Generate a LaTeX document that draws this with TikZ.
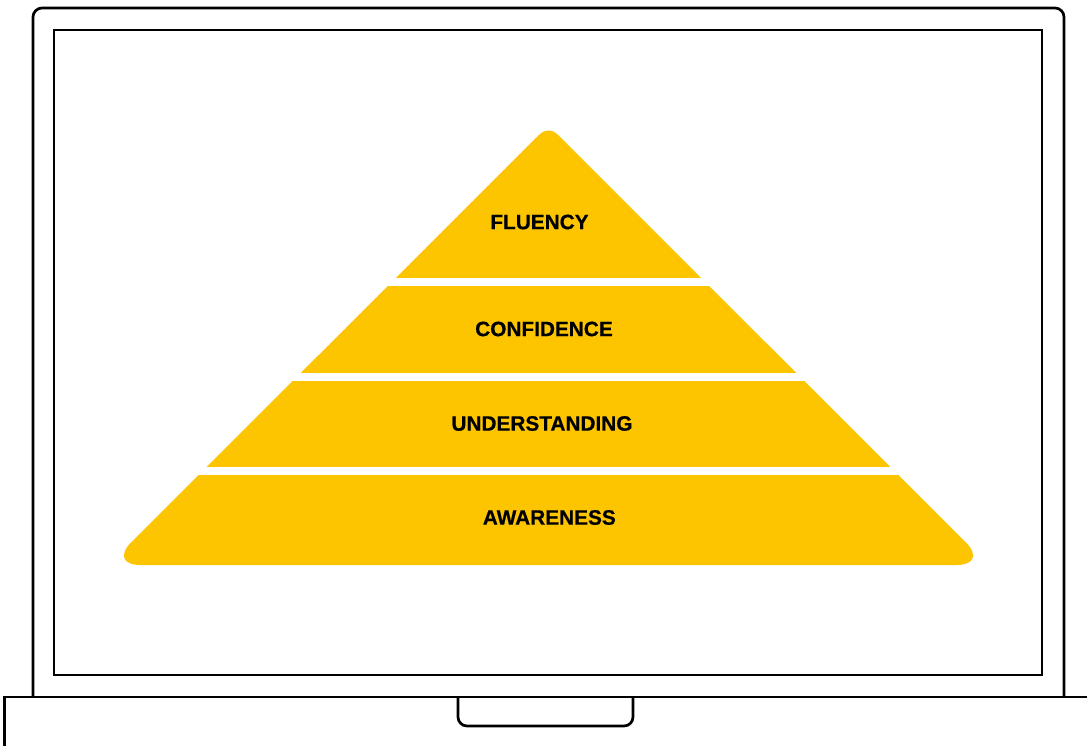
\documentclass[tikz,border=0pt]{standalone}
\usepackage{fontspec}
\setmainfont{Liberation Sans}[BoldFeatures={FakeBold=0.6}]
\definecolor{pyr}{RGB}{252,197,0}
\begin{document}
\begin{tikzpicture}[x=1pt,y=-1pt,
  outline/.style={draw=black,line width=2.7pt},
  layertext/.style={font=\fontsize{20.8}{24}\selectfont\bfseries,text=black,inner sep=0pt,anchor=center},
  gap/.style={fill=white,draw=none}]
\useasboundingbox (0,0) rectangle (1087,745);
\fill[white] (0,0) rectangle (1087,745);
% laptop lid
\draw[outline,rounded corners=9pt] (33,697) -- (33,8) -- (1064,8) -- (1064,697);
% screen
\draw[outline] (54,30) rectangle (1042,675);
% base
\draw[outline] (4.5,760) -- (4.5,697) -- (1100,697);
% notch
\draw[outline,rounded corners=9pt] (458,697) -- (458,726) -- (633,726) -- (633,697);
% pyramid
\fill[pyr] (548.5,565) [rounded corners=32pt] -- (108.5,565) [rounded corners=12pt] -- (548.5,125.5) [rounded corners=32pt] -- (988.5,565) [sharp corners] -- cycle;
\fill[gap] (100,278) rectangle (1000,286);
\fill[gap] (100,373) rectangle (1000,381);
\fill[gap] (100,467) rectangle (1000,475);
% labels
\node[layertext] (fluency) at (539.5,222) {FLUENCY};
\node[layertext] (confidence) at (544,329) {CONFIDENCE};
\node[layertext] (understanding) at (542,423.5) {UNDERSTANDING};
\node[layertext] (awareness) at (549.3,517.5) {AWARENESS};
\end{tikzpicture}
\end{document}
